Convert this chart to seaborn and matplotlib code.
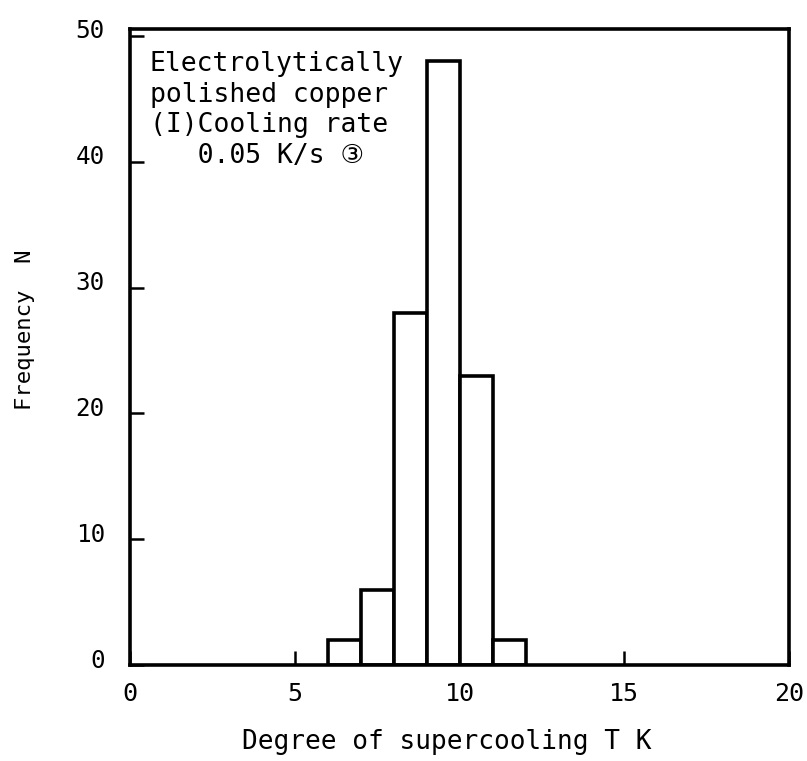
import numpy as np
import pandas as pd
import seaborn as sns
import matplotlib.transforms as mtrans
from matplotlib import pyplot as plt

# histogram bins (degree of supercooling, K) and counts
bin_edges = [6, 7, 8, 9, 10, 11, 12]
counts = [2, 6, 28, 48, 23, 2]
x_ticks = [0, 5, 10, 15, 20]
y_ticks = [0, 10, 20, 30, 40, 50]
note = "Electrolytically\npolished copper\n(I)Cooling rate\n   0.05 K/s \u2462"

sns.set_style("white")
plt.rcParams['font.family'] = ['DejaVu Sans Mono', 'DejaVu Sans']
plt.rcParams['text.color'] = 'black'
plt.rcParams['axes.labelcolor'] = 'black'

hist_df = pd.DataFrame({
        'supercooling': [(a + b) / 2 for a, b in zip(bin_edges[:-1], bin_edges[1:])],
        'n': counts})

fig = plt.figure(figsize=(8.07, 7.61), dpi=100)
ax = fig.add_axes([0.161, 0.126, 0.817, 0.836])

sns.histplot(data=hist_df, x='supercooling', weights='n', bins=bin_edges,
        color='white', edgecolor='black', linewidth=2.6, alpha=1, ax=ax)

ax.set_xlim(0, 20)
ax.set_ylim(0, 50.56)
ax.set_xticks(x_ticks)
ax.set_yticks(y_ticks)
ax.tick_params(direction='in', length=10, width=1.8,
        colors='black', bottom=True, left=True, top=False, right=False)
ax.tick_params(axis='y', pad=18, labelsize=17.5)
ax.tick_params(axis='x', pad=12, labelsize=18)
# y tick numbers sit a little above their ticks in the original
for lab in ax.get_yticklabels():
        lab.set_transform(lab.get_transform() +
                mtrans.ScaledTranslation(0, 0.07, fig.dpi_scale_trans))
for sp in ax.spines.values():
        sp.set_visible(True)
        sp.set_color('black')
        sp.set_linewidth(2.6)

ax.set_xlabel("Degree of supercooling T K", fontsize=18.8)
ax.xaxis.set_label_coords(0.48, -0.1)
ax.set_ylabel("Frequency  N", fontsize=16)
ax.yaxis.set_label_coords(-0.144, 0.527)

ax.text(0.03, 0.965, note, transform=ax.transAxes, ha='left', va='top',
        fontsize=19, linespacing=1.23, color='black')

plt.savefig('out.png', dpi=100)
